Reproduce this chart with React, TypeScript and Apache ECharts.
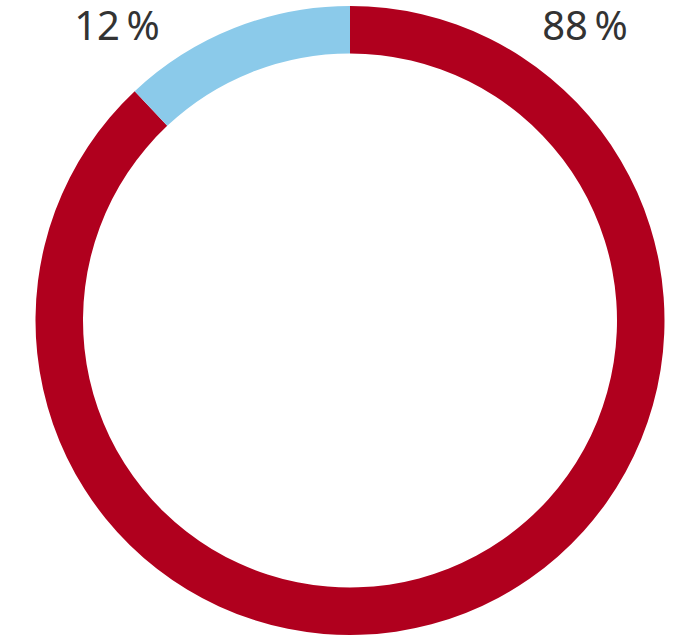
import React, { useEffect, useRef } from "react";
import * as echarts from "echarts";

const categories = ["A", "B"];
const values = [88, 12];
const colors = ["#B0001E", "#8BCAEA"];
const labelPositions = [
  [585, 24],
  [117, 24],
];

export default function App() {
  const ref = useRef<HTMLDivElement>(null);
  useEffect(() => {
    const chart = echarts.init(ref.current!, null, { renderer: "svg" });
    chart.setOption({
      animation: false,
      series: [
        {
          type: "pie",
          center: [350, 320.5],
          radius: [267, 314.5],
          startAngle: 90,
          clockwise: true,
          silent: true,
          data: categories.map((c, i) => ({
            name: c,
            value: values[i],
            itemStyle: { color: colors[i] },
          })),
          label: {
            show: true,
            position: "outside",
            formatter: (p: any) => `${p.value}\u2009%`,
            fontFamily: "Noto Sans",
            fontSize: 40,
            lineHeight: 40,
            color: "#333333",
          },
          labelLine: { show: false },
          labelLayout: (p: any) => ({
            x: labelPositions[p.dataIndex][0],
            y: labelPositions[p.dataIndex][1],
            align: "center",
            verticalAlign: "middle",
          }),
        },
      ],
    });
    return () => chart.dispose();
  }, []);
  return (
    <div
      ref={ref}
      style={{ position: "absolute", left: 0, top: 0, width: 700, height: 642 }}
    />
  );
}
